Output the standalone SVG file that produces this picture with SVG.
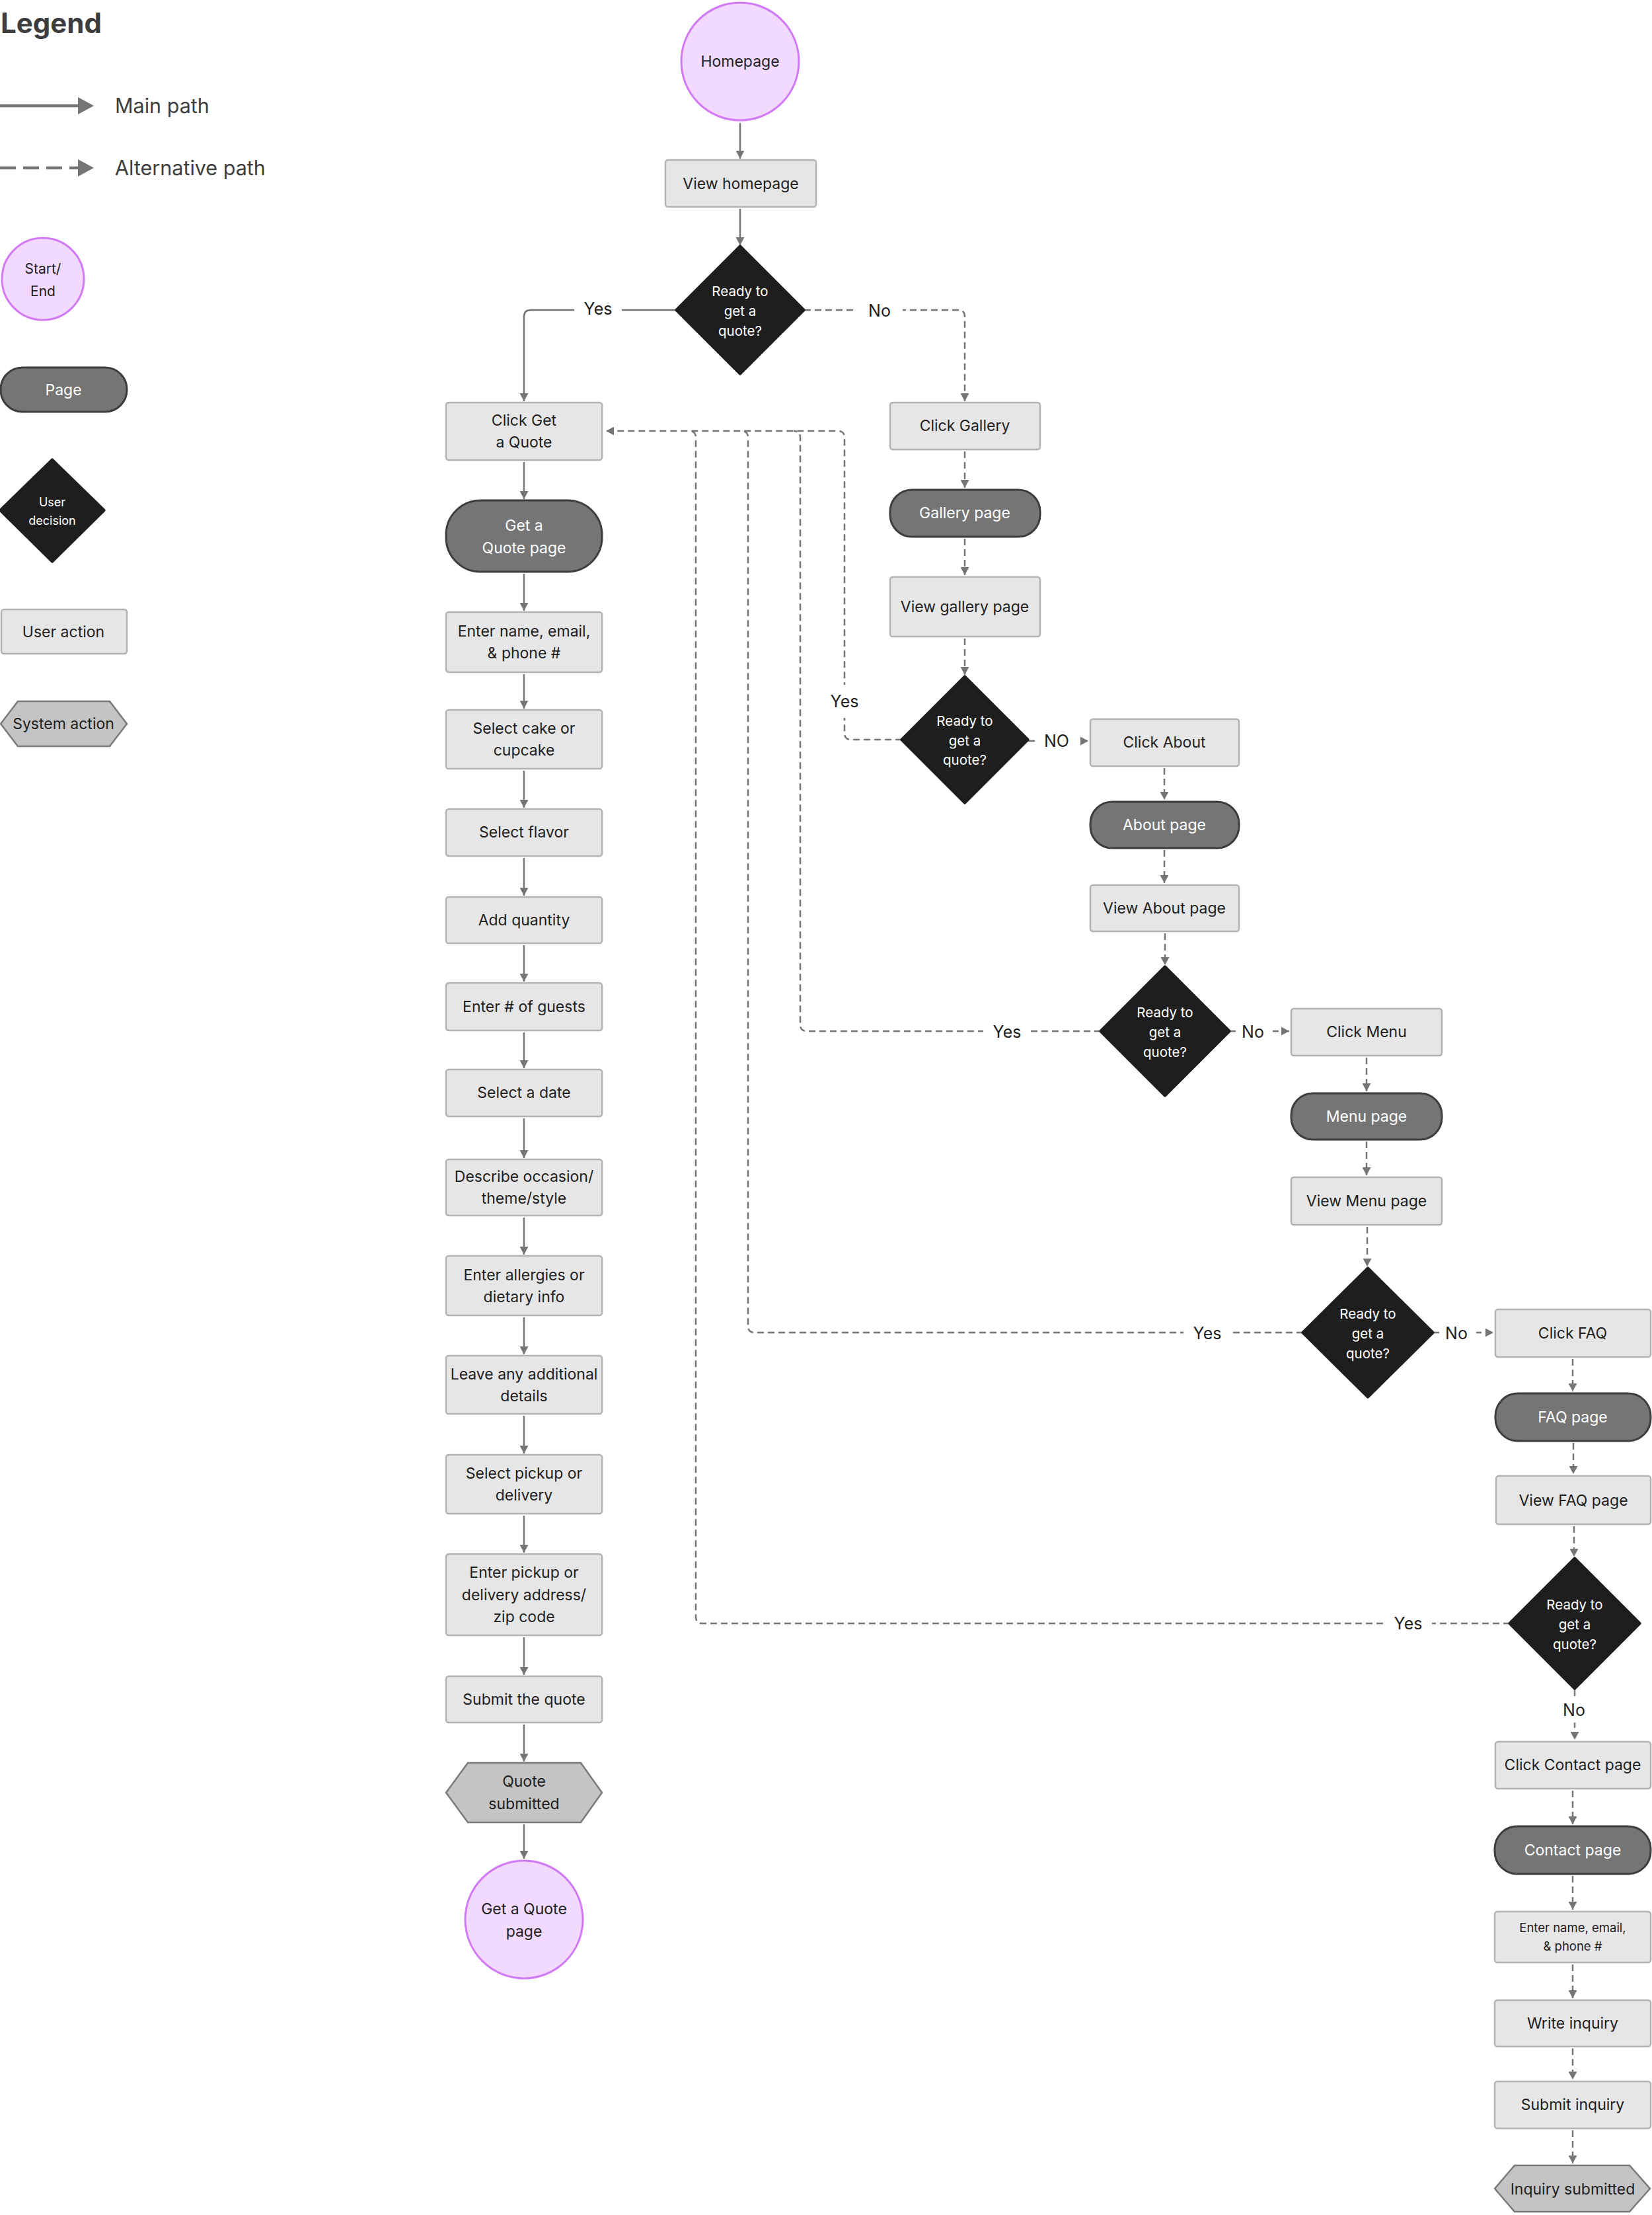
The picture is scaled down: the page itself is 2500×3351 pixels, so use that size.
<svg xmlns="http://www.w3.org/2000/svg" width="2500" height="3351" viewBox="0 0 2500 3351">
<style>
.ua{fill:#e6e6e6;stroke:#b3b3b3;stroke-width:2.5}
.pg{fill:#757575;stroke:#3d3d3d;stroke-width:3}
.dc{fill:#1e1e1e;stroke:#1e1e1e;stroke-width:5;stroke-linejoin:round}
.se{fill:#f2d9ff;stroke:#d27af5;stroke-width:3}
.sa{fill:#c4c4c4;stroke:#7a7a7a;stroke-width:2.5}
text{font-family:Inter,"Noto Sans","Liberation Sans",sans-serif}
.t{font-size:23px;fill:#1e1e1e;text-anchor:middle;dominant-baseline:central}
.ts{font-size:18.5px;fill:#1e1e1e;text-anchor:middle;dominant-baseline:central}
.tw{font-size:23px;fill:#ffffff;text-anchor:middle;dominant-baseline:central}
.td{font-size:20.5px;fill:#ffffff;text-anchor:middle;dominant-baseline:central}
.lb{font-size:25px;fill:#1e1e1e;text-anchor:middle;dominant-baseline:central}
.bg{fill:#ffffff}
.s{fill:none;stroke:#757575;stroke-width:2.5;marker-end:url(#ah)}
.d{fill:none;stroke:#757575;stroke-width:2.5;stroke-dasharray:10 6;marker-end:url(#ah)}
.dn{fill:none;stroke:#757575;stroke-width:2.5;stroke-dasharray:10 6}
.lg{font-size:30.5px;fill:#3d3d3d}
</style>
<defs>
<marker id="ah" markerUnits="userSpaceOnUse" markerWidth="13" markerHeight="13" refX="12" refY="6.5" orient="auto">
<path d="M0,0 L12,6.5 L0,13 z" fill="#757575"/>
</marker>
</defs>

<g id="legend">
<text x="1" y="50" style="font-size:42px;font-weight:700;fill:#3d3d3d">Legend</text>
<path d="M0,160 H120" stroke="#757575" stroke-width="4.5" fill="none"/>
<polygon points="118,147 142,160 118,173" fill="#757575"/>
<text x="174" y="171" class="lg">Main path</text>
<path d="M0,254 H120" stroke="#757575" stroke-width="4.5" fill="none" stroke-dasharray="24 11"/>
<polygon points="118,241 142,254 118,267" fill="#757575"/>
<text x="174" y="265" class="lg">Alternative path</text>
<g id="legend-start-end"><circle cx="65" cy="422" r="62" class="se"/><text x="65" y="406" class="t" style="font-size:21px">Start/</text><text x="65" y="440" class="t" style="font-size:21px">End</text></g>
<g id="legend-page"><rect x="1" y="556" width="191" height="67" rx="33" class="pg"/><text x="96" y="590" class="tw">Page</text></g>
<g id="legend-decision"><polygon points="1,772 79,696 157,772 79,849" class="dc"/><text x="79" y="759" class="td" style="font-size:18px">User</text><text x="79" y="787" class="td" style="font-size:18px">decision</text></g>
<g id="legend-user-action"><rect x="2" y="922" width="190" height="67" rx="4" class="ua"/><text x="96" y="956" class="t">User action</text></g>
<g id="legend-system-action"><polygon points="1,1095 27,1061 166,1061 192,1095 166,1129 27,1129" class="sa"/><text x="96" y="1095" class="t">System action</text></g>
</g>

<g id="connectors">
<path class="s" d="M1120,186 V240"/>
<path class="s" d="M1120,316 V371"/>
<path class="s" d="M1024,469 H803 Q793,469 793,479 V607"/>
<path class="d" d="M1217,469 H1450 Q1460,469 1460,479 V607"/>
<path class="s" d="M793,699 V755"/>
<path class="s" d="M793,868 V924"/>
<path class="s" d="M793,1020 V1072"/>
<path class="s" d="M793,1166 V1222"/>
<path class="s" d="M793,1298 V1355"/>
<path class="s" d="M793,1430 V1485"/>
<path class="s" d="M793,1562 V1616"/>
<path class="s" d="M793,1692 V1752"/>
<path class="s" d="M793,1842 V1898"/>
<path class="s" d="M793,1993 V2049"/>
<path class="s" d="M793,2142 V2199"/>
<path class="s" d="M793,2293 V2349"/>
<path class="s" d="M793,2477 V2534"/>
<path class="s" d="M793,2609 V2665"/>
<path class="s" d="M793,2760 V2812"/>

<path class="d" d="M1460,683 V738"/>
<path class="d" d="M1460,815 V870"/>
<path class="d" d="M1460,966 V1021"/>
<path class="d" d="M1556,1121 H1647"/>
<path class="d" d="M1762,1162 V1210"/>
<path class="d" d="M1762,1286 V1336"/>
<path class="d" d="M1763,1412 V1460"/>
<path class="d" d="M1861,1560 H1951"/>
<path class="d" d="M2068,1600 V1651"/>
<path class="d" d="M2068,1727 V1778"/>
<path class="d" d="M2069,1856 V1916"/>
<path class="d" d="M2168,2016 H2260"/>
<path class="d" d="M2380,2056 V2105"/>
<path class="d" d="M2381,2183 V2230"/>
<path class="d" d="M2382,2309 V2355"/>
<path class="d" d="M2383,2556 V2632"/>
<path class="d" d="M2380,2709 V2760"/>
<path class="d" d="M2380,2838 V2889"/>
<path class="d" d="M2380,2972 V3023"/>
<path class="d" d="M2380,3099 V3146"/>
<path class="d" d="M2380,3223 V3273"/>

<path class="d" d="M1365,1119 H1288 Q1278,1119 1278,1109 V662 Q1278,652 1268,652 H917"/>
<path class="dn" d="M1666,1560 H1221 Q1211,1560 1211,1550 V662 Q1211,652 1201,652"/>
<path class="dn" d="M1972,2016 H1142 Q1132,2016 1132,2006 V662 Q1132,652 1122,652"/>
<path class="dn" d="M2285,2456 H1063 Q1053,2456 1053,2446 V662 Q1053,652 1043,652"/>

<rect class="bg" x="869" y="451" width="72" height="32"/><text x="905" y="467" class="lb">Yes</text>
<rect class="bg" x="1294" y="454" width="72" height="32"/><text x="1331" y="470" class="lb">No</text>
<rect class="bg" x="1255" y="1036" width="46" height="50"/><text x="1278" y="1061" class="lb">Yes</text>
<rect class="bg" x="1570" y="1105" width="60" height="32"/><text x="1599" y="1121" class="lb">NO</text>
<rect class="bg" x="1488" y="1545" width="72" height="32"/><text x="1524" y="1561" class="lb">Yes</text>
<rect class="bg" x="1870" y="1545" width="56" height="32"/><text x="1896" y="1561" class="lb">No</text>
<rect class="bg" x="1791" y="2001" width="72" height="32"/><text x="1827" y="2017" class="lb">Yes</text>
<rect class="bg" x="2178" y="2001" width="56" height="32"/><text x="2204" y="2017" class="lb">No</text>
<rect class="bg" x="2095" y="2440" width="72" height="32"/><text x="2131" y="2456" class="lb">Yes</text>
<rect class="bg" x="2360" y="2568" width="44" height="38"/><text x="2382" y="2587" class="lb">No</text>
</g>

<g id="homepage"><circle cx="1120" cy="93" r="89" class="se"/><text x="1120" y="93" class="t">Homepage</text></g>
<g id="view-homepage"><rect x="1007" y="242" width="228" height="71" rx="4" class="ua"/><text x="1121" y="278" class="t">View homepage</text></g>
<g id="decision-1"><polygon points="1024,469 1120,373 1216,469 1120,565" class="dc"/><text x="1120" y="440" class="td">Ready to</text><text x="1120" y="470" class="td">get a</text><text x="1120" y="500" class="td">quote?</text></g>

<g id="click-get-quote"><rect x="675" y="609" width="236" height="87" rx="4" class="ua"/><text x="793" y="636" class="t">Click Get</text><text x="793" y="669" class="t">a Quote</text></g>
<g id="get-quote-page"><rect x="675" y="757" width="236" height="108" rx="52" class="pg"/><text x="793" y="795" class="tw">Get a</text><text x="793" y="829" class="tw">Quote page</text></g>
<g id="enter-name"><rect x="675" y="926" width="236" height="91" rx="4" class="ua"/><text x="793" y="955" class="t">Enter name, email,</text><text x="793" y="988" class="t">&amp; phone #</text></g>
<g id="select-cake"><rect x="675" y="1074" width="236" height="89" rx="4" class="ua"/><text x="793" y="1102" class="t">Select cake or</text><text x="793" y="1135" class="t">cupcake</text></g>
<g id="select-flavor"><rect x="675" y="1224" width="236" height="71" rx="4" class="ua"/><text x="793" y="1259" class="t">Select flavor</text></g>
<g id="add-quantity"><rect x="675" y="1357" width="236" height="70" rx="4" class="ua"/><text x="793" y="1392" class="t">Add quantity</text></g>
<g id="enter-guests"><rect x="675" y="1487" width="236" height="72" rx="4" class="ua"/><text x="793" y="1523" class="t">Enter # of guests</text></g>
<g id="select-date"><rect x="675" y="1618" width="236" height="71" rx="4" class="ua"/><text x="793" y="1653" class="t">Select a date</text></g>
<g id="describe-occasion"><rect x="675" y="1754" width="236" height="85" rx="4" class="ua"/><text x="793" y="1780" class="t">Describe occasion/</text><text x="793" y="1813" class="t">theme/style</text></g>
<g id="enter-allergies"><rect x="675" y="1900" width="236" height="90" rx="4" class="ua"/><text x="793" y="1929" class="t">Enter allergies or</text><text x="793" y="1962" class="t">dietary info</text></g>
<g id="additional-details"><rect x="675" y="2051" width="236" height="88" rx="4" class="ua"/><text x="793" y="2079" class="t">Leave any additional</text><text x="793" y="2112" class="t">details</text></g>
<g id="select-pickup"><rect x="675" y="2201" width="236" height="89" rx="4" class="ua"/><text x="793" y="2229" class="t">Select pickup or</text><text x="793" y="2262" class="t">delivery</text></g>
<g id="enter-address"><rect x="675" y="2351" width="236" height="123" rx="4" class="ua"/><text x="793" y="2379" class="t">Enter pickup or</text><text x="793" y="2413" class="t">delivery address/</text><text x="793" y="2446" class="t">zip code</text></g>
<g id="submit-quote"><rect x="675" y="2536" width="236" height="70" rx="4" class="ua"/><text x="793" y="2571" class="t">Submit the quote</text></g>
<g id="quote-submitted"><polygon points="675,2712 708,2667 879,2667 911,2712 879,2757 708,2757" class="sa"/><text x="793" y="2695" class="t">Quote</text><text x="793" y="2729" class="t">submitted</text></g>
<g id="end-quote-page"><circle cx="793" cy="2904" r="89" class="se"/><text x="793" y="2888" class="t">Get a Quote</text><text x="793" y="2922" class="t">page</text></g>

<g id="click-gallery"><rect x="1347" y="609" width="227" height="71" rx="4" class="ua"/><text x="1460" y="644" class="t">Click Gallery</text></g>
<g id="gallery-page"><rect x="1347" y="741" width="227" height="71" rx="33" class="pg"/><text x="1460" y="776" class="tw">Gallery page</text></g>
<g id="view-gallery"><rect x="1347" y="873" width="227" height="90" rx="4" class="ua"/><text x="1460" y="918" class="t">View gallery page</text></g>
<g id="decision-2"><polygon points="1365,1119 1460,1024 1555,1119 1460,1214" class="dc"/><text x="1460" y="1090" class="td">Ready to</text><text x="1460" y="1120" class="td">get a</text><text x="1460" y="1149" class="td">quote?</text></g>

<g id="click-about"><rect x="1650" y="1088" width="225" height="71" rx="4" class="ua"/><text x="1762" y="1123" class="t">Click About</text></g>
<g id="about-page"><rect x="1650" y="1213" width="225" height="70" rx="33" class="pg"/><text x="1762" y="1248" class="tw">About page</text></g>
<g id="view-about"><rect x="1650" y="1339" width="225" height="70" rx="4" class="ua"/><text x="1762" y="1374" class="t">View About page</text></g>
<g id="decision-3"><polygon points="1666,1560 1763,1463 1860,1560 1763,1657" class="dc"/><text x="1763" y="1531" class="td">Ready to</text><text x="1763" y="1561" class="td">get a</text><text x="1763" y="1591" class="td">quote?</text></g>

<g id="click-menu"><rect x="1954" y="1526" width="228" height="71" rx="4" class="ua"/><text x="2068" y="1561" class="t">Click Menu</text></g>
<g id="menu-page"><rect x="1954" y="1654" width="228" height="70" rx="33" class="pg"/><text x="2068" y="1689" class="tw">Menu page</text></g>
<g id="view-menu"><rect x="1954" y="1781" width="228" height="72" rx="4" class="ua"/><text x="2068" y="1817" class="t">View Menu page</text></g>
<g id="decision-4"><polygon points="1972,2016 2070,1919 2168,2016 2070,2113" class="dc"/><text x="2070" y="1987" class="td">Ready to</text><text x="2070" y="2017" class="td">get a</text><text x="2070" y="2047" class="td">quote?</text></g>

<g id="click-faq"><rect x="2263" y="1981" width="235" height="72" rx="4" class="ua"/><text x="2380" y="2017" class="t">Click FAQ</text></g>
<g id="faq-page"><rect x="2263" y="2108" width="235" height="72" rx="34" class="pg"/><text x="2380" y="2144" class="tw">FAQ page</text></g>
<g id="view-faq"><rect x="2264" y="2233" width="234" height="73" rx="4" class="ua"/><text x="2381" y="2270" class="t">View FAQ page</text></g>
<g id="decision-5"><polygon points="2285,2456 2383,2358 2481,2456 2383,2554" class="dc"/><text x="2383" y="2427" class="td">Ready to</text><text x="2383" y="2457" class="td">get a</text><text x="2383" y="2487" class="td">quote?</text></g>

<g id="click-contact"><rect x="2263" y="2635" width="235" height="71" rx="4" class="ua"/><text x="2380" y="2670" class="t">Click Contact page</text></g>
<g id="contact-page"><rect x="2262" y="2763" width="236" height="72" rx="34" class="pg"/><text x="2380" y="2799" class="tw">Contact page</text></g>
<g id="contact-enter-name"><rect x="2262" y="2892" width="236" height="77" rx="4" class="ua"/><text x="2380" y="2916" class="ts">Enter name, email,</text><text x="2380" y="2944" class="ts">&amp; phone #</text></g>
<g id="write-inquiry"><rect x="2262" y="3026" width="236" height="70" rx="4" class="ua"/><text x="2380" y="3061" class="t">Write inquiry</text></g>
<g id="submit-inquiry"><rect x="2262" y="3149" width="236" height="71" rx="4" class="ua"/><text x="2380" y="3184" class="t">Submit inquiry</text></g>
<g id="inquiry-submitted"><polygon points="2262,3311 2292,3276 2466,3276 2497,3311 2466,3346 2292,3346" class="sa"/><text x="2380" y="3312" class="t">Inquiry submitted</text></g>
</svg>
